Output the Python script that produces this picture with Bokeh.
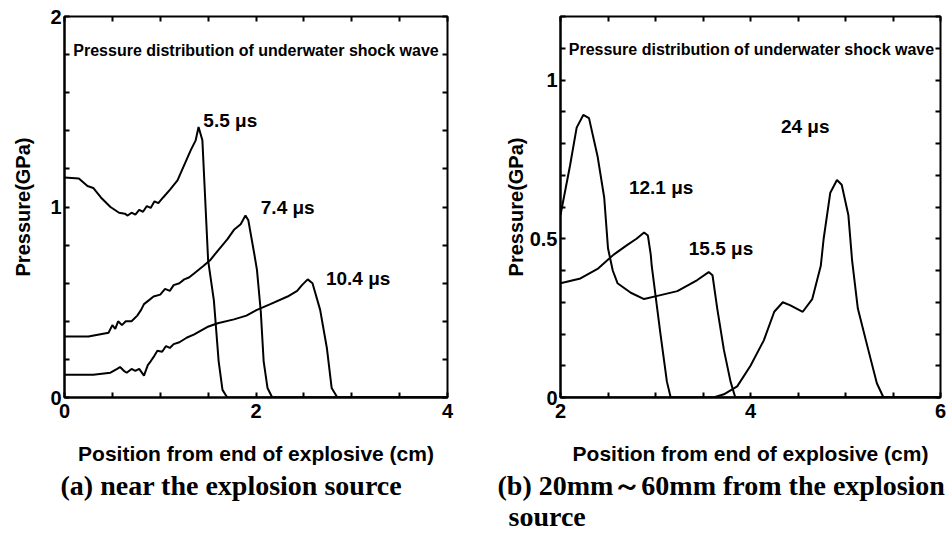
from bokeh.plotting import figure
from bokeh.models import Label, LinearAxis, FixedTicker, Range1d, Title
from bokeh.layouts import row
from bokeh.embed import file_html
from bokeh.resources import INLINE

# ---------------- data ----------------
# (a) near the explosion source
x_55 = [0.0, 0.15, 0.24, 0.30, 0.38, 0.48, 0.57, 0.63, 0.66, 0.70, 0.74, 0.78, 0.82, 0.86,
        0.90, 0.94, 0.98, 1.03, 1.10, 1.18, 1.25, 1.32, 1.37, 1.40, 1.44, 1.50, 1.56, 1.61,
        1.65, 1.70, 4.0]
y_55 = [1.155, 1.15, 1.11, 1.10, 1.05, 1.00, 0.97, 0.965, 0.955, 0.97, 0.96, 0.985, 0.975,
        1.005, 0.995, 1.03, 1.02, 1.05, 1.09, 1.14, 1.22, 1.30, 1.35, 1.42, 1.35, 0.72, 0.51,
        0.19, 0.04, 0.0, 0.0]

x_74 = [0.0, 0.25, 0.46, 0.50, 0.53, 0.56, 0.60, 0.64, 0.70, 0.76, 0.80, 0.83, 0.88, 0.93,
        1.00, 1.05, 1.10, 1.14, 1.20, 1.25, 1.30, 1.35, 1.45, 1.52, 1.60, 1.70, 1.77, 1.84,
        1.89, 1.92, 1.98, 2.01, 2.05, 2.08, 2.12, 2.17, 4.0]
y_74 = [0.32, 0.32, 0.34, 0.38, 0.36, 0.40, 0.38, 0.40, 0.40, 0.43, 0.46, 0.49, 0.51, 0.53,
        0.54, 0.57, 0.56, 0.59, 0.60, 0.62, 0.63, 0.65, 0.69, 0.72, 0.77, 0.83, 0.88, 0.91,
        0.955, 0.93, 0.76, 0.67, 0.45, 0.19, 0.05, 0.0, 0.0]

x_104 = [0.0, 0.30, 0.48, 0.55, 0.58, 0.62, 0.65, 0.70, 0.74, 0.78, 0.83, 0.87, 0.90, 0.94,
         0.97, 1.02, 1.06, 1.10, 1.14, 1.20, 1.28, 1.35, 1.49, 1.60, 1.77, 1.90, 2.01, 2.15,
         2.33, 2.43, 2.48, 2.54, 2.59, 2.67, 2.74, 2.79, 2.85, 4.0]
y_104 = [0.12, 0.12, 0.13, 0.15, 0.16, 0.14, 0.13, 0.15, 0.14, 0.15, 0.115, 0.17, 0.19, 0.22,
         0.245, 0.24, 0.27, 0.26, 0.28, 0.29, 0.315, 0.33, 0.37, 0.39, 0.41, 0.43, 0.46, 0.49,
         0.53, 0.56, 0.59, 0.62, 0.60, 0.46, 0.26, 0.05, 0.0, 0.0]

# (b) 20mm-60mm from the explosion source
x_121 = [2.0, 2.21, 2.39, 2.56, 2.70, 2.80, 2.88, 2.92, 2.95, 2.96, 3.05, 3.12, 3.16, 6.0]
y_121 = [0.36, 0.375, 0.405, 0.45, 0.48, 0.50, 0.52, 0.51, 0.45, 0.415, 0.205, 0.05, 0.0, 0.0]

x_155 = [2.0, 2.10, 2.17, 2.24, 2.30, 2.39, 2.46, 2.50, 2.55, 2.60, 2.74, 2.88, 3.02, 3.23,
         3.44, 3.56, 3.60, 3.65, 3.72, 3.79, 3.84, 6.0]
y_155 = [0.575, 0.73, 0.85, 0.89, 0.88, 0.76, 0.63, 0.47, 0.40, 0.36, 0.33, 0.31, 0.32, 0.335,
         0.37, 0.395, 0.385, 0.28, 0.15, 0.05, 0.0, 0.0]

x_24 = [2.0, 3.61, 3.72, 3.86, 4.00, 4.14, 4.25, 4.34, 4.42, 4.55, 4.65, 4.74, 4.77, 4.84,
        4.91, 4.96, 5.03, 5.07, 5.13, 5.24, 5.33, 5.40, 6.0]
y_24 = [0.0, 0.0, 0.01, 0.035, 0.10, 0.18, 0.27, 0.30, 0.29, 0.27, 0.31, 0.415, 0.50, 0.645,
        0.685, 0.67, 0.575, 0.43, 0.28, 0.15, 0.045, 0.0, 0.0]

# ticks and tick labels
a_xticks = [0, 0.5, 1, 1.5, 2, 2.5, 3, 3.5, 4]
a_xlabels = {0: "0", 2: "2", 4: "4"}
a_yticks = [0, 0.2, 0.4, 0.6, 0.8, 1.0, 1.2, 1.4, 1.6, 1.8, 2.0]
a_ylabels = {0: "0", 1: "1", 2: "2"}
b_xticks = [2, 2.5, 3, 3.5, 4, 4.5, 5, 5.5, 6]
b_xlabels = {2: "2", 4: "4", 6: "6"}
b_yticks = [0, 0.1, 0.2, 0.3, 0.4, 0.5, 0.6, 0.7, 0.8, 0.9, 1.0, 1.1, 1.2]
b_ylabels = {0: "0", 0.5: "0.5", 1: "1"}

title_text = "Pressure distribution of underwater shock wave"
x_title = "Position from end of explosive (cm)"
y_title = "Pressure(GPa)"
caption_a = "(a) near the explosion source"
caption_b1 = "(b) 20mm～60mm from the explosion"
caption_b2 = "source"

FONT = "Liberation Sans"
SERIF = "Liberation Serif"
H = 533


def overrides(ticks, labels):
    return {t: labels.get(t, "") for t in ticks}


def make_fig(width, xr, yr, bl, br, xticks, xlabels, yticks, ylabels, ylab_standoff):
    p = figure(width=width, height=H, x_range=Range1d(*xr), y_range=Range1d(*yr),
               output_backend="svg", toolbar_location=None,
               min_border_left=bl, min_border_right=br, min_border_top=16,
               min_border_bottom=H - 397)
    p.grid.visible = False
    p.outline_line_color = "black"
    p.outline_line_width = 2
    p.outline_line_alpha = 1.0
    p.background_fill_color = "white"
    p.border_fill_color = "white"

    xa = p.xaxis[0]
    xa.ticker = FixedTicker(ticks=xticks)
    xa.major_label_overrides = overrides(xticks, xlabels)
    ya = p.yaxis[0]
    ya.ticker = FixedTicker(ticks=yticks)
    ya.major_label_overrides = overrides(yticks, ylabels)
    for ax in (xa, ya):
        ax.minor_tick_line_color = None
        ax.major_tick_in = 5
        ax.major_tick_out = 0
        ax.major_tick_line_width = 2
        ax.axis_line_width = 2
        ax.major_label_text_font = FONT
        ax.major_label_text_font_style = "bold"
        ax.major_label_text_font_size = "20px"
        ax.major_label_text_color = "black"
        ax.axis_label_text_font = FONT
        ax.axis_label_text_font_style = "bold"
        ax.axis_label_text_font_size = "20px"
        ax.axis_label_text_color = "black"
    xa.axis_label = x_title
    xa.axis_label_text_font_size = "21px"
    xa.major_label_standoff = 6
    xa.axis_label_standoff = 21
    ya.axis_label = y_title
    ya.major_label_standoff = 3
    ya.axis_label_standoff = ylab_standoff

    top = LinearAxis(ticker=FixedTicker(ticks=xticks), major_label_text_font_size="0px",
                     major_label_standoff=0, major_tick_in=5, major_tick_out=0,
                     major_tick_line_width=2, minor_tick_line_color=None,
                     axis_line_color=None,
                     major_label_overrides=overrides(xticks, {}))
    right = LinearAxis(ticker=FixedTicker(ticks=yticks), major_label_text_font_size="0px",
                       major_label_standoff=0, major_tick_in=5, major_tick_out=0,
                       major_tick_line_width=2, minor_tick_line_color=None,
                       axis_line_color=None,
                       major_label_overrides=overrides(yticks, {}))
    p.add_layout(top, "above")
    p.add_layout(right, "right")
    return p


def add_label(p, x, y, text, size="19px", align="left"):
    p.add_layout(Label(x=x, y=y, text=text, text_font=FONT, text_font_style="bold",
                       text_font_size=size, text_color="black", text_align=align,
                       text_baseline="middle"))


def add_caption(p, text, offset, standoff):
    p.add_layout(Title(text=text, align="left", offset=offset, standoff=standoff,
                       text_font=SERIF, text_font_style="bold", text_font_size="28px",
                       text_color="black"), "below")


# ---------------- (a) ----------------
pa = make_fig(470, (0, 4), (0, 2), 64, 23, a_xticks, a_xlabels, a_yticks, a_ylabels, 13)
for xs, ys in ((x_55, y_55), (x_74, y_74), (x_104, y_104)):
    pa.line(xs, ys, line_color="black", line_width=2)
add_label(pa, 2.0, 1.82, title_text, size="16px", align="center")
add_label(pa, 1.45, 1.455, "5.5 μs")
add_label(pa, 2.05, 1.0, "7.4 μs")
add_label(pa, 2.73, 0.625, "10.4 μs")
add_caption(pa, caption_a, -4, 0)

# ---------------- (b) ----------------
pb = make_fig(476, (2, 6), (0, 1.2), 90, 6, b_xticks, b_xlabels, b_yticks, b_ylabels, 0)
for xs, ys in ((x_121, y_121), (x_155, y_155), (x_24, y_24)):
    pb.line(xs, ys, line_color="black", line_width=2)
add_label(pb, 4.01, 1.095, title_text, size="16px", align="center")
add_label(pb, 4.32, 0.855, "24 μs")
add_label(pb, 2.72, 0.66, "12.1 μs")
add_label(pb, 3.35, 0.47, "15.5 μs")
add_caption(pb, caption_b1, -63, 0)
add_caption(pb, caption_b2, -52, -3)

layout = row(pa, pb)
open("out.html", "w").write(file_html(layout, INLINE))
